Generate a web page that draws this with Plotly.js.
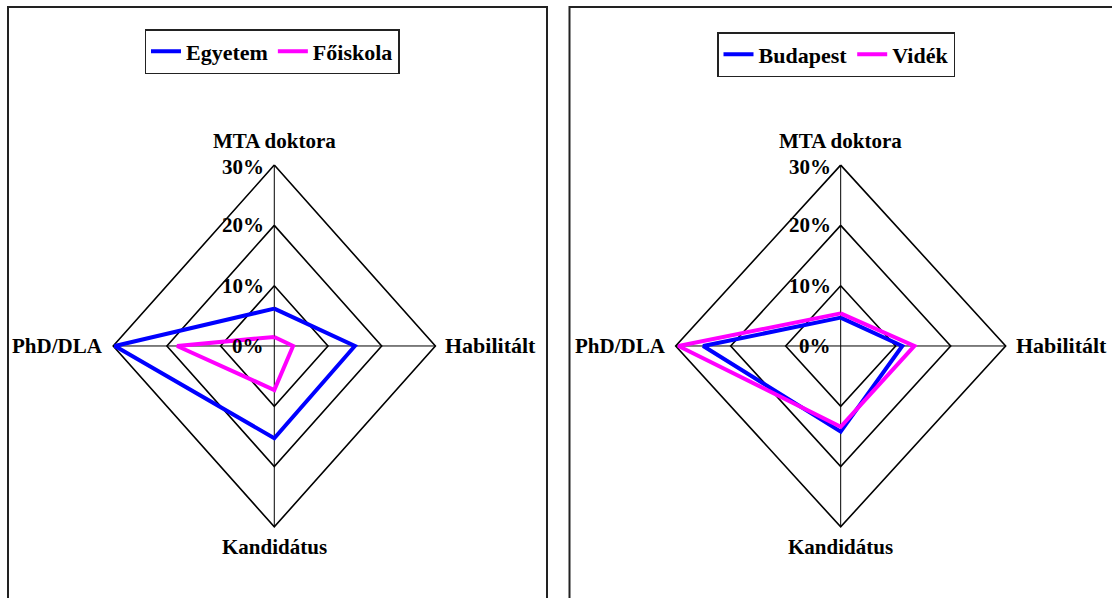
<!DOCTYPE html>
<html>
<head>
<meta charset="utf-8">
<script src="https://cdn.plot.ly/plotly-3.0.1.min.js"></script>
<style>html,body{margin:0;padding:0;background:#fff;}#chart{width:1112px;height:598px;}</style>
</head>
<body>
<div id="chart"></div>
<script>
// Categories clockwise from the top, as in the original radar charts
const categories = ["MTA doktora", "Habilitált", "Kandidátus", "PhD/DLA"];
const tickValues = [0, 10, 20, 30];
const tickLabels = ["0%", "10%", "20%", "30%"];

// Left chart: institution type (%)
const egyetem = [6.2, 15.0, 15.3, 29.7];
const foiskola = [1.5, 3.5, 7.3, 18.1];

// Right chart: region (%)
const budapest = [4.7, 11.2, 14.2, 25.0];
const videk = [5.4, 13.4, 13.4, 29.5];

// angle of each category axis (degrees, clockwise from top)
const angles = categories.map((c, i) => 90 - i * 360 / categories.length);

const FONT = "Liberation Serif, Times New Roman, serif";
const rad = a => a * Math.PI / 180;

function loopXY(vals) {
  const x = [], y = [];
  vals.forEach((v, i) => { x.push(v * Math.cos(rad(angles[i]))); y.push(v * Math.sin(rad(angles[i]))); });
  x.push(x[0]); y.push(y[0]);
  return {x: x.map(v => +v.toFixed(6)), y: y.map(v => +v.toFixed(6))};
}

function gridTraces(xa, ya) {
  const tr = [];
  const rmax = tickValues[tickValues.length - 1];
  // spokes
  const sx = [], sy = [];
  angles.forEach(a => {
    sx.push(0, +(rmax * Math.cos(rad(a))).toFixed(6), null);
    sy.push(0, +(rmax * Math.sin(rad(a))).toFixed(6), null);
  });
  tr.push({x: sx, y: sy, xaxis: xa, yaxis: ya, mode: "lines", line: {color: "#000", width: 1},
           hoverinfo: "skip", showlegend: false});
  tickValues.filter(t => t > 0).forEach(t => {
    const p = loopXY(categories.map(() => t));
    tr.push({x: p.x, y: p.y, xaxis: xa, yaxis: ya, mode: "lines", line: {color: "#000", width: 1.6},
             hoverinfo: "skip", showlegend: false});
  });
  return tr;
}

function seriesTrace(name, vals, color, xa, ya, lg) {
  const p = loopXY(vals);
  return {x: p.x, y: p.y, xaxis: xa, yaxis: ya, name: name, mode: "lines", legend: lg,
          line: {color: color, width: 4, shape: "linear"}, customdata: categories.concat([categories[0]]),
          hovertemplate: "%{customdata}<extra>" + name + "</extra>"};
}

const data = [].concat(
  gridTraces("x", "y"),
  gridTraces("x2", "y2"),
  [seriesTrace("Egyetem", egyetem, "#0000FF", "x", "y", "legend"),
   seriesTrace("Főiskola", foiskola, "#FF00FF", "x", "y", "legend"),
   seriesTrace("Budapest", budapest, "#0000FF", "x2", "y2", "legend2"),
   seriesTrace("Vidék", videk, "#FF00FF", "x2", "y2", "legend2")]
);

function annots(xr, yr) {
  const a = [];
  const rmax = tickValues[tickValues.length - 1];
  const base = {xref: xr, yref: yr, showarrow: false, font: {family: FONT, size: 21, color: "#000", weight: "bold"}};
  // category labels
  a.push(Object.assign({}, base, {x: 0, y: rmax, text: categories[0], xanchor: "center", yanchor: "bottom", yshift: 10}));
  a.push(Object.assign({}, base, {x: rmax, y: 0, text: categories[1], xanchor: "left", yanchor: "middle", xshift: 8,
                                  font: {family: FONT, size: 22, color: "#000", weight: "bold"}}));
  a.push(Object.assign({}, base, {x: 0, y: -rmax, text: categories[2], xanchor: "center", yanchor: "top", yshift: -6}));
  a.push(Object.assign({}, base, {x: -rmax, y: 0, text: categories[3], xanchor: "right", yanchor: "middle", xshift: -8}));
  // radial tick labels
  tickValues.forEach((t, i) => {
    a.push(Object.assign({}, base, {x: 0, y: t, text: tickLabels[i], xanchor: "right", yanchor: "middle", xshift: -8,
                                    yshift: i === tickValues.length - 1 ? -2 : 0}));
  });
  return a;
}

const axBase = {visible: false, showgrid: false, zeroline: false, fixedrange: true};
const legFont = {family: FONT, size: 22, color: "#000", weight: "bold"};
const layout = {
  width: 1112, height: 598,
  margin: {l: 0, r: 0, t: 0, b: 0},
  paper_bgcolor: "#fff", plot_bgcolor: "rgba(0,0,0,0)",
  font: {family: FONT, color: "#000"},
  xaxis: Object.assign({}, axBase, {domain: [0, 0.5], range: [-51.08, 52.46]}),
  yaxis: Object.assign({}, axBase, {domain: [0, 1], range: [-41.8, 57.38]}),
  xaxis2: Object.assign({}, axBase, {domain: [0.5, 1], range: [-51.76, 49.33]}),
  yaxis2: Object.assign({}, axBase, {domain: [0, 1], range: [-41.8, 57.38]}),
  legend: {orientation: "h", x: 272 / 1112, xanchor: "center", y: 1 - 29 / 598, yanchor: "top",
           bordercolor: "#222", borderwidth: 1.5, bgcolor: "#fff", itemwidth: 30,
           font: legFont, tracegroupgap: 0},
  legend2: {orientation: "h", x: 836 / 1112, xanchor: "center", y: 1 - 32 / 598, yanchor: "top",
            bordercolor: "#222", borderwidth: 1.5, bgcolor: "#fff", itemwidth: 30,
            font: legFont, tracegroupgap: 0},
  shapes: [
    {type: "rect", xref: "paper", yref: "paper", x0: 8 / 1112, x1: 547 / 1112, y0: -0.05, y1: 1 - 7 / 598,
     line: {color: "#222", width: 2}},
    {type: "rect", xref: "paper", yref: "paper", x0: 569.5 / 1112, x1: 1.05, y0: -0.05, y1: 1 - 7 / 598,
     line: {color: "#222", width: 2}}
  ],
  annotations: annots("x", "y").concat(annots("x2", "y2")),
  showlegend: true
};

Plotly.newPlot("chart", data, layout, {displayModeBar: false, staticPlot: true});
</script>
</body>
</html>
